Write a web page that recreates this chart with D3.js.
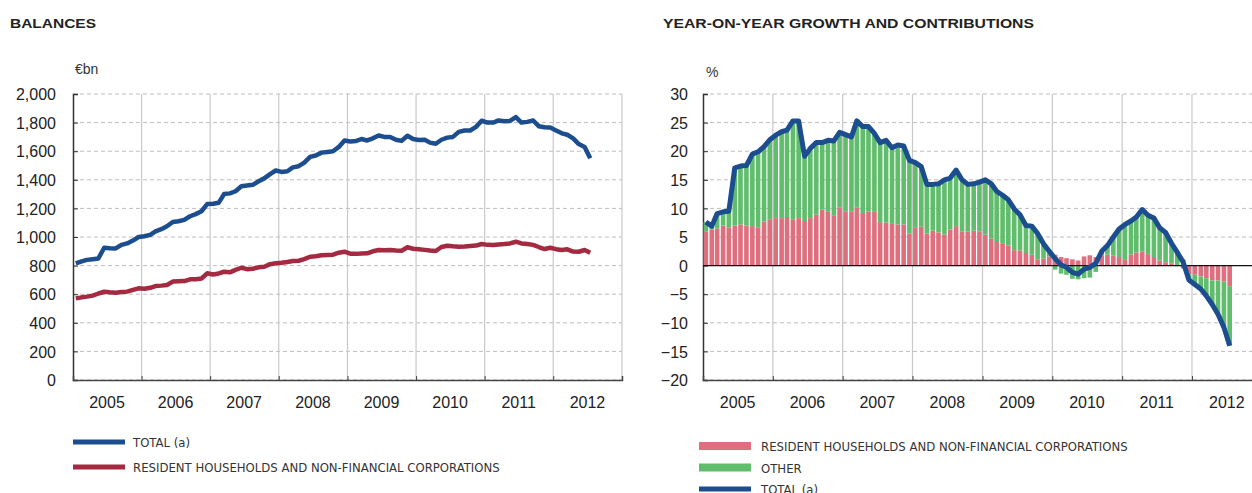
<!DOCTYPE html>
<html>
<head>
<meta charset="utf-8">
<script src="https://cdn.jsdelivr.net/npm/d3@7"></script>
<style>
  body { margin: 0; background: #fff; }
  svg { display: block; font-family: "Liberation Sans", Arial, sans-serif; }
  .ttl { font-family: "Liberation Sans", Arial, sans-serif; font-size: 13.5px; font-weight: bold; fill: #222; }
  .leg { font-family: "Liberation Sans Narrow", "DejaVu Sans Condensed", sans-serif; font-size: 13px; fill: #333; }
  .tick text { font-size: 16px; fill: #222; }
</style>
</head>
<body>
<svg id="chart" width="1252" height="493"></svg>
<script>
// monthly data, Jan 2005 .. Jul 2012
var firstMonth = new Date(2005, 0, 1);
var years = [2005, 2006, 2007, 2008, 2009, 2010, 2011, 2012];
var leftTicks = [0, 200, 400, 600, 800, 1000, 1200, 1400, 1600, 1800, 2000];
var rightTicks = [-20, -15, -10, -5, 0, 5, 10, 15, 20, 25, 30];

// balances, €bn
var balTotal = [815, 830, 840, 845, 850, 925, 922, 920, 945, 955, 975, 1000,
  1005, 1015, 1040, 1055, 1075, 1105, 1110, 1120, 1145, 1160, 1180, 1230,
  1232, 1240, 1300, 1305, 1320, 1355, 1360, 1365, 1390, 1410, 1440, 1465,
  1455, 1460, 1487, 1495, 1520, 1560, 1570, 1590, 1595, 1600, 1630, 1675,
  1668, 1672, 1685, 1675, 1690, 1710, 1700, 1700, 1680, 1672, 1708, 1685,
  1678, 1680, 1660, 1652, 1680, 1695, 1700, 1735, 1745, 1745, 1770, 1813,
  1800, 1800, 1815, 1810, 1812, 1838, 1800, 1805, 1815, 1775, 1768, 1765,
  1745, 1725, 1715, 1690, 1650, 1630, 1550];
var balHouseholds = [571, 578, 583, 590, 605, 617, 613, 610, 615, 618, 630, 641,
  638, 645, 657, 660, 664, 688, 690, 692, 704, 704, 710, 746,
  738, 745, 757, 753, 770, 785, 775, 778, 788, 792, 810, 816,
  820, 825, 832, 834, 845, 862, 865, 872, 874, 876, 890, 897,
  883, 882, 885, 886, 900, 909, 908, 909, 906, 904, 928, 918,
  914, 910, 905, 902, 930, 939, 935, 932, 934, 937, 940, 951,
  945, 944, 948, 951, 955, 967, 955, 951, 945, 930, 916, 925,
  915, 909, 914, 898, 897, 909, 890];

// year-on-year growth (%) and contributions (pp)
var growthHouseholds = [6.0, 6.3, 6.5, 7.0, 6.7, 7.0, 7.2, 7.0, 6.9, 6.7, 7.7, 8.0,
  8.3, 8.3, 8.5, 8.0, 8.3, 7.8, 8.3, 8.9, 9.8, 9.4, 8.7, 10.2,
  9.5, 9.4, 10.1, 9.2, 9.5, 9.4, 7.6, 7.5, 7.3, 7.2, 7.2, 5.6,
  6.6, 6.8, 5.6, 6.1, 5.8, 5.4, 6.3, 6.9, 6.0, 6.0, 6.1, 6.0,
  5.4, 4.7, 4.3, 3.8, 3.5, 2.7, 2.6, 2.2, 1.9, 1.1, 1.2, 1.6,
  1.9, 1.5, 1.3, 1.1, 0.9, 1.6, 1.8, 1.5, 1.8, 1.9, 1.8, 1.5,
  1.0, 1.9, 2.3, 2.5, 2.0, 1.5, 0.9, 0.6, 0.4, -0.1, -0.5, -1.5,
  -1.6, -1.9, -2.2, -2.6, -2.6, -2.8, -3.6];
var growthOther = [1.6, 0.6, 2.6, 2.4, 2.8, 10.1, 10.2, 10.5, 12.6, 13.2, 13.1, 14.0,
  14.5, 15.1, 15.2, 17.3, 17.0, 11.3, 12.2, 12.6, 11.7, 12.5, 13.1, 13.1,
  13.4, 13.1, 15.2, 15.1, 14.8, 13.7, 13.9, 14.4, 13.3, 13.9, 13.7, 12.8,
  11.4, 10.5, 8.6, 8.1, 8.5, 9.6, 9.0, 9.8, 9.0, 8.2, 8.2, 8.6,
  9.6, 9.6, 8.7, 8.5, 8.0, 7.2, 6.3, 4.8, 5.0, 4.5, 2.6, 0.9,
  -0.7, -1.4, -1.6, -2.3, -2.4, -2.2, -2.1, -1.1, 0.7, 1.6, 3.2, 4.9,
  6.2, 5.9, 6.2, 7.3, 6.8, 6.8, 5.7, 5.2, 3.5, 2.4, 1.1, -1.0,
  -1.7, -2.2, -3.1, -4.2, -5.9, -8.0, -10.4];
var growthTotal = [7.6, 6.9, 9.1, 9.4, 9.5, 17.1, 17.4, 17.5, 19.5, 19.9, 20.8, 22.0,
  22.8, 23.4, 23.7, 25.3, 25.3, 19.1, 20.5, 21.5, 21.5, 21.9, 21.8, 23.3,
  22.9, 22.5, 25.3, 24.3, 24.3, 23.1, 21.5, 21.9, 20.6, 21.1, 20.9, 18.4,
  18.0, 17.3, 14.2, 14.2, 14.3, 15.0, 15.3, 16.7, 15.0, 14.2, 14.3, 14.6,
  15.0, 14.3, 13.0, 12.3, 11.5, 9.9, 8.9, 7.0, 6.9, 5.6, 3.8, 2.5,
  1.2, 0.1, -0.3, -1.2, -1.5, -0.6, -0.3, 0.4, 2.5, 3.5, 5.0, 6.4,
  7.2, 7.8, 8.5, 9.8, 8.8, 8.3, 6.6, 5.8, 3.9, 2.3, 0.6, -2.5,
  -3.3, -4.1, -5.3, -6.8, -8.5, -10.8, -14.0];

var colBlue = "#1c4d8f", colRed = "#a42a41", colPink = "#de6f7e", colGreen = "#5fbd6c";

var months = balTotal.map(function(d, i) {
    return new Date(2005, i, 16);
});

var svg = d3.select("#chart");

function drawFrame(g, x, y, ticks, fmt, x0, x1, yTop, yBottom, labelX) {
    // dashed horizontal grid
    g.selectAll("line.hgrid").data(ticks).enter().append("line")
        .attr("x1", x0).attr("x2", x1)
        .attr("y1", function(d) { return y(d); })
        .attr("y2", function(d) { return y(d); })
        .attr("stroke", "#bdbdbd").attr("stroke-dasharray", "4,3");
    // vertical year lines
    var bounds = years.slice(1).map(function(yr) { return new Date(yr, 0, 1); });
    bounds.push(new Date(2013, 0, 1));
    g.selectAll("line.vgrid").data(bounds).enter().append("line")
        .attr("x1", function(d) { return x(d); })
        .attr("x2", function(d) { return x(d); })
        .attr("y1", yTop).attr("y2", yBottom)
        .attr("stroke", "#c8c8c8").attr("stroke-width", 1.2);
    // y axis
    var ya = g.append("g").attr("transform", "translate(" + x0 + ",0)")
        .call(d3.axisRight(y).tickValues(ticks).tickFormat(fmt).tickSize(5));
    ya.select(".domain").attr("stroke", "#333").attr("stroke-width", 1.5);
    ya.selectAll(".tick line").attr("stroke", "#333");
    ya.selectAll(".tick text").attr("x", labelX - x0).attr("text-anchor", "end")
        .attr("dy", "0.36em");
    // x axis with year labels in the middle of each year
    var xa = g.append("g").attr("transform", "translate(0," + yBottom + ")")
        .call(d3.axisTop(x).tickValues(bounds.slice(0, -1)).tickSize(4).tickFormat(""));
    xa.select(".domain").attr("stroke", "#444").attr("stroke-width", 1.5);
    xa.selectAll(".tick line").attr("stroke", "#444");
    g.selectAll("text.yr").data(years).enter().append("text")
        .attr("x", function(d) { return x(new Date(d, 6, 1)); })
        .attr("y", yBottom + 28)
        .attr("text-anchor", "middle")
        .style("font-size", "16px").style("fill", "#222")
        .text(function(d) { return d; });
}

// ---------- left: balances ----------
var xL = d3.scaleTime().domain([firstMonth, new Date(2013, 0, 1)]).range([73, 622]);
var yL = d3.scaleLinear().domain([0, 2000]).range([380, 94]);
var gL = svg.append("g");
gL.append("text").attr("class", "ttl").attr("x", 10).attr("y", 28)
    .attr("textLength", 86).attr("lengthAdjust", "spacingAndGlyphs").text("BALANCES");
gL.append("text").attr("x", 75).attr("y", 74).style("font-size", "14px").style("fill", "#333").text("€bn");
drawFrame(gL, xL, yL, leftTicks, d3.format(","), 73, 622, 94, 380, 56);

var lineL = function(arr) {
    return d3.line().x(function(d, i) { return xL(months[i]); })
        .y(function(d) { return yL(d); })(arr);
};
gL.append("path").attr("d", lineL(balHouseholds)).attr("fill", "none")
    .attr("stroke", colRed).attr("stroke-width", 4.5).attr("stroke-linejoin", "round");
gL.append("path").attr("d", lineL(balTotal)).attr("fill", "none")
    .attr("stroke", colBlue).attr("stroke-width", 4.5).attr("stroke-linejoin", "round");

var legL = [{ name: "TOTAL (a)", color: colBlue }, { name: "RESIDENT HOUSEHOLDS AND NON-FINANCIAL CORPORATIONS", color: colRed }];
legL.forEach(function(d, i) {
    var yy = 442 + i * 25;
    gL.append("rect").attr("x", 73).attr("y", yy - 2.5).attr("width", 52).attr("height", 5).attr("fill", d.color);
    gL.append("text").attr("class", "leg").attr("x", 133).attr("y", yy + 5).text(d.name);
});

// ---------- right: growth and contributions ----------
var xR = d3.scaleTime().domain([firstMonth, new Date(2013, 0, 1)]).range([703, 1262]);
var yR = d3.scaleLinear().domain([-20, 30]).range([380, 94]);
var gR = svg.append("g");
gR.append("text").attr("class", "ttl").attr("x", 663).attr("y", 28)
    .attr("textLength", 371).attr("lengthAdjust", "spacingAndGlyphs").text("YEAR-ON-YEAR GROWTH AND CONTRIBUTIONS");
gR.append("text").attr("x", 706).attr("y", 77).style("font-size", "14px").style("fill", "#333").text("%");
drawFrame(gR, xR, yR, rightTicks, d3.format("d"), 703, 1262, 94, 380, 688);

var rows = months.map(function(m, i) {
    return { month: m, households: growthHouseholds[i], other: growthOther[i] };
});
var stack = d3.stack().keys(["households", "other"]).offset(d3.stackOffsetDiverging);
var layers = stack(rows);
var barW = 4.6;
var barColors = { households: colPink, other: colGreen };
gR.selectAll("g.layer").data(layers).enter().append("g")
    .attr("fill", function(d) { return barColors[d.key]; })
    .selectAll("rect").data(function(d) { return d; }).enter().append("rect")
    .attr("x", function(d) { return xR(d.data.month) - barW / 2; })
    .attr("width", barW)
    .attr("y", function(d) { return yR(Math.max(d[0], d[1])); })
    .attr("height", function(d) { return Math.abs(yR(d[0]) - yR(d[1])); });

gR.append("line").attr("x1", 703).attr("x2", 1262).attr("y1", yR(0)).attr("y2", yR(0))
    .attr("stroke", "#111").attr("stroke-width", 1.2);

gR.append("path")
    .attr("d", d3.line().x(function(d, i) { return xR(months[i]); }).y(function(d) { return yR(d); })(growthTotal))
    .attr("fill", "none").attr("stroke", colBlue).attr("stroke-width", 5).attr("stroke-linejoin", "round");

var legR = [{ name: "RESIDENT HOUSEHOLDS AND NON-FINANCIAL CORPORATIONS", color: colPink, h: 8 },
            { name: "OTHER", color: colGreen, h: 8 },
            { name: "TOTAL (a)", color: colBlue, h: 5 }];
legR.forEach(function(d, i) {
    var yy = 446 + i * 21.5;
    gR.append("rect").attr("x", 699).attr("y", yy - d.h / 2).attr("width", 52).attr("height", d.h).attr("fill", d.color);
    gR.append("text").attr("class", "leg").attr("x", 761).attr("y", yy + 5).text(d.name);
});
</script>
</body>
</html>
